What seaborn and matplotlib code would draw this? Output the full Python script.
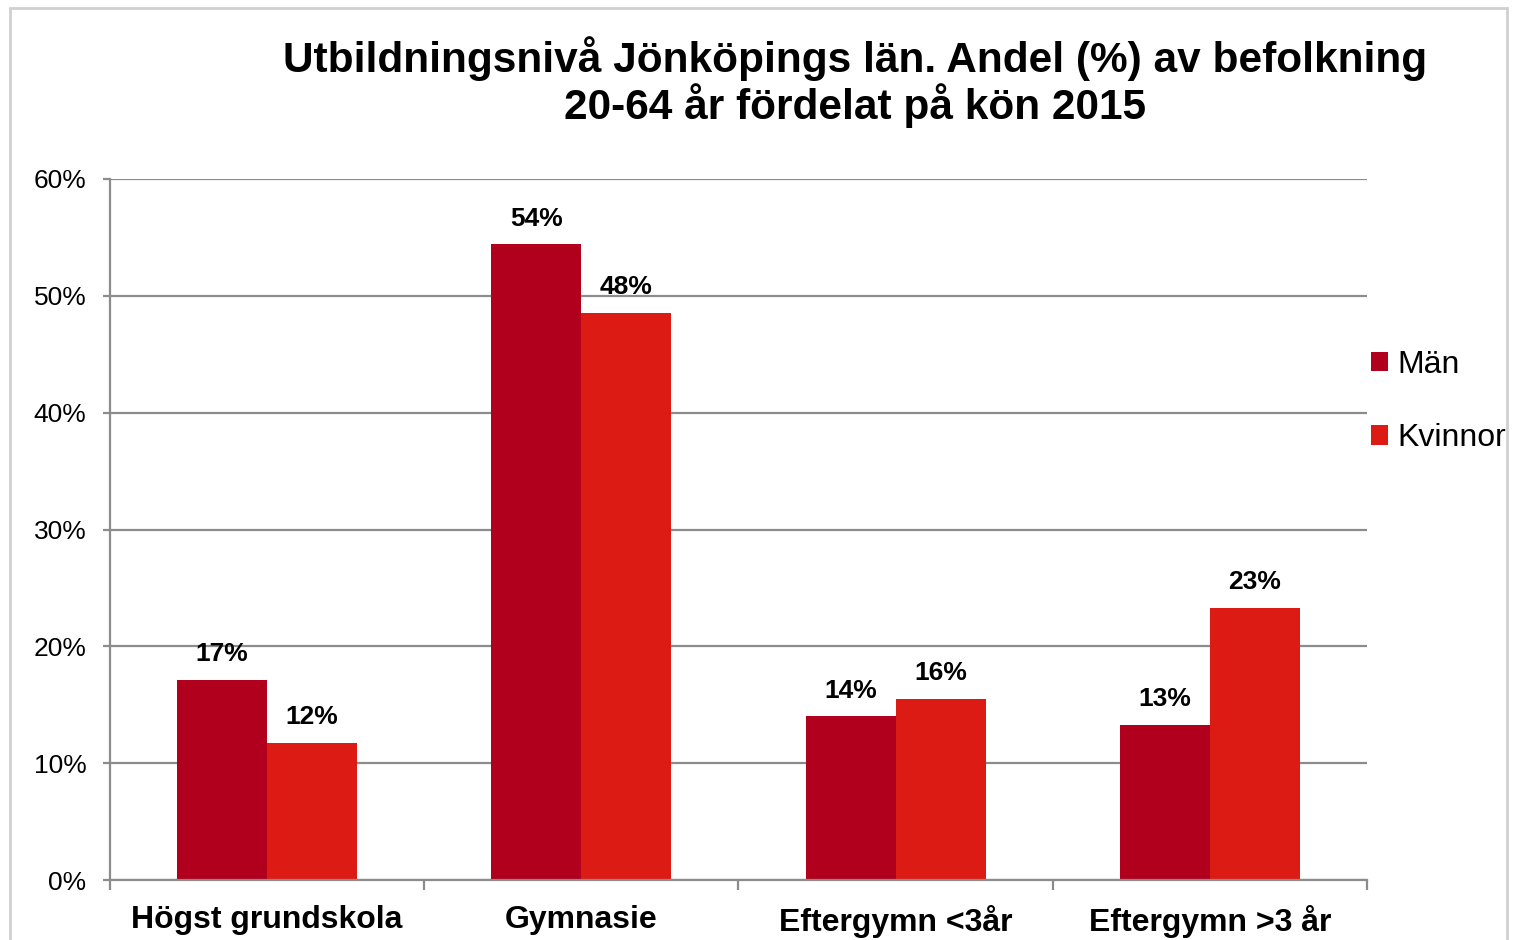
import matplotlib
matplotlib.use("Agg")
import matplotlib.pyplot as plt
import matplotlib.patches as mpatches
from matplotlib.ticker import PercentFormatter, FixedLocator
import pandas as pd
import seaborn as sns

# data
categories = ["Högst grundskola", "Gymnasie", "Eftergymn <3år", "Eftergymn >3 år"]
man = [17.1, 54.4, 14.0, 13.3]
kvinnor = [11.7, 48.5, 15.5, 23.3]
groups = ["Män", "Kvinnor"]
colors = ["#B0001E", "#DC1C14"]

df = pd.DataFrame({
    "Kategori": categories * 2,
    "Andel": man + kvinnor,
    "Kön": [groups[0]] * 4 + [groups[1]] * 4,
})

sns.set_style("white")
plt.rcParams["font.family"] = ["Liberation Sans", "DejaVu Sans"]
plt.rcParams["text.color"] = "black"
plt.rcParams["xtick.color"] = "black"
plt.rcParams["ytick.color"] = "black"

fig = plt.figure(figsize=(15.17, 9.40), dpi=100)
ax = fig.add_axes([0.0725, 0.0638, 0.8286, 0.7458])

sns.barplot(data=df, x="Kategori", y="Andel", hue="Kön", palette=colors,
            width=0.573, saturation=1, linewidth=0, ax=ax, legend=True)

ax.set_ylim(0, 60)
ax.set_xlim(-0.5, 3.5)
ax.set_yticks(range(0, 61, 10))
ax.yaxis.set_major_formatter(PercentFormatter(decimals=0))
ax.set_xlabel("")
ax.set_ylabel("")
ax.grid(axis="y", color="#8c8c8c", linewidth=1.6)
ax.set_axisbelow(True)
for s in ["top", "right"]:
    ax.spines[s].set_visible(False)
for s in ["left", "bottom"]:
    ax.spines[s].set_color("#8c8c8c")
    ax.spines[s].set_linewidth(1.6)

ax.tick_params(axis="y", labelsize=19, length=5, width=1.6, color="#8c8c8c",
               labelcolor="black", direction="out", left=True, pad=12)
ax.tick_params(axis="x", which="major", length=0, labelsize=23, pad=18,
               labelcolor="black")
ax.xaxis.set_minor_locator(FixedLocator([-0.5, 0.5, 1.5, 2.5, 3.5]))
ax.tick_params(axis="x", which="minor", length=7, width=1.6, color="#8c8c8c",
               direction="out", bottom=True)
for lbl in ax.get_xticklabels():
    lbl.set_fontweight("bold")

for cont in ax.containers:
    ax.bar_label(cont, labels=[f"{v:.0f}%" for v in cont.datavalues],
                 fontsize=19, fontweight="bold", padding=10, color="black")

leg = ax.legend(loc="upper left", bbox_to_anchor=(0.998, 0.765), frameon=False,
                fontsize=23, handlelength=0.55, handleheight=0.55,
                handletextpad=0.28, labelspacing=1.35, borderaxespad=0,
                borderpad=0.2)
for t in leg.get_texts():
    t.set_color("black")

fig.text(0.5636, 0.913,
         "Utbildningsnivå Jönköpings län. Andel (%) av befolkning\n20-64 år fördelat på kön 2015",
         ha="center", va="center", fontsize=30.5, fontweight="bold",
         linespacing=1.05, color="black")

fig.patches.append(mpatches.Rectangle((0.0066, -0.05), 0.9868, 1.0415,
                                      transform=fig.transFigure, fill=False,
                                      edgecolor="#d0d0d0", linewidth=2))

fig.savefig("out.png", dpi=100)
